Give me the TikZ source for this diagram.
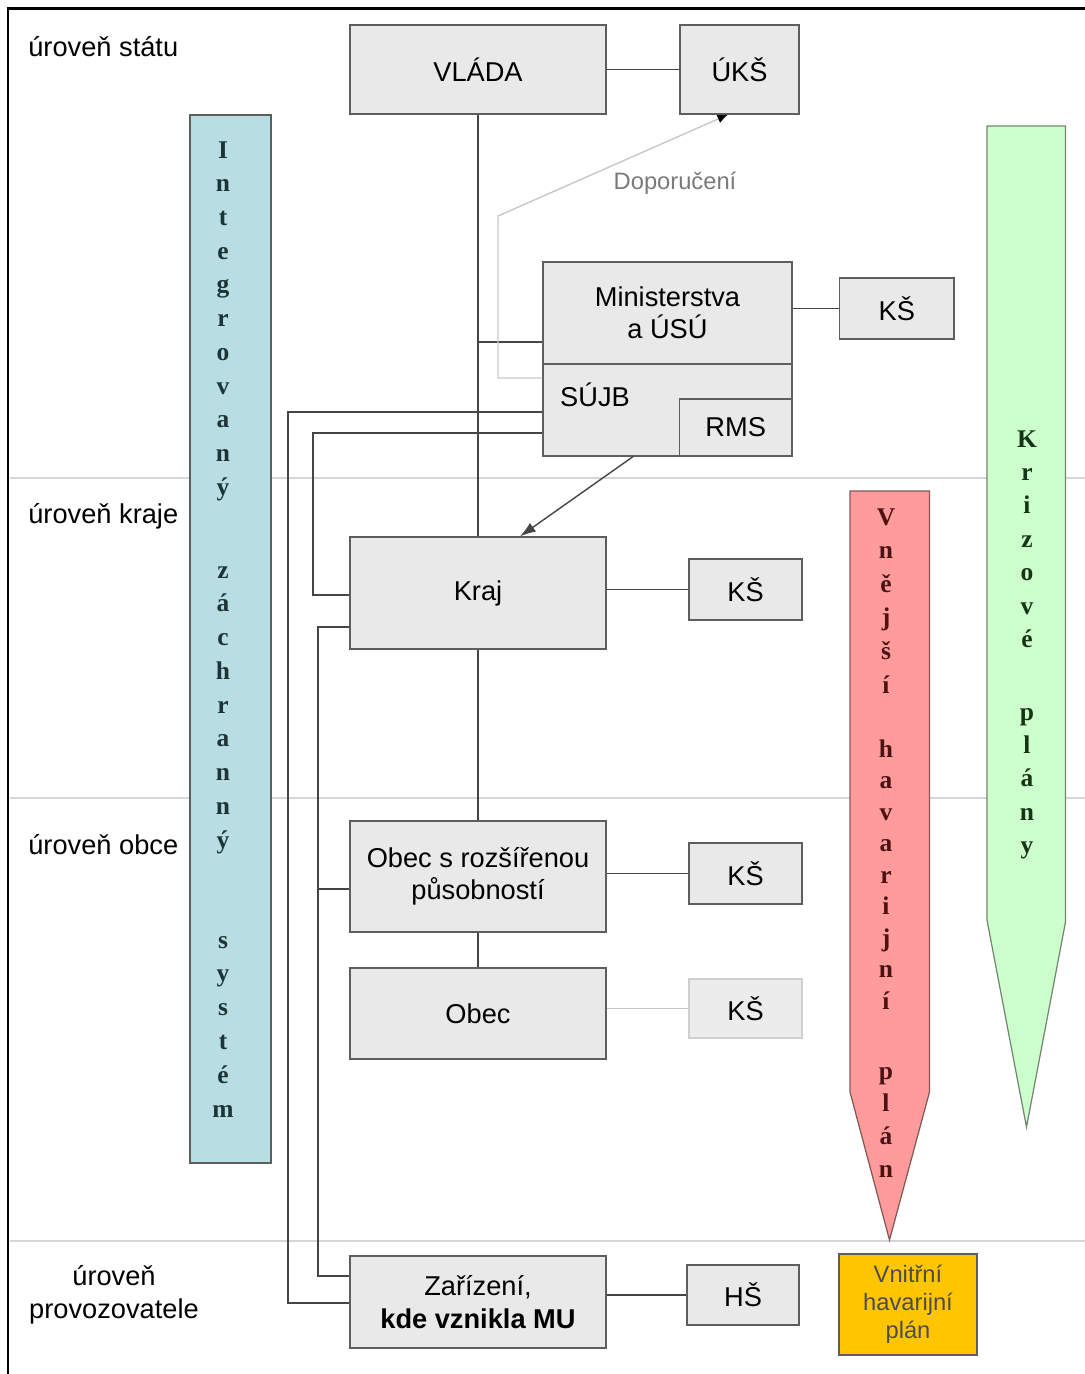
\documentclass[tikz,border=0pt]{standalone}
\usepackage{fontspec}
\setmainfont{Liberation Sans}
\newfontfamily\barfont{Liberation Serif}
\usetikzlibrary{arrows.meta}
\definecolor{BoxFill}{HTML}{E9E9E9}
\definecolor{BoxLine}{HTML}{5E5E5E}
\definecolor{Wire}{HTML}{454545}
\definecolor{Level}{HTML}{D6D6D6}
\definecolor{Aqua}{HTML}{B8DEE4}
\definecolor{Rose}{HTML}{FF9B9B}
\definecolor{Mint}{HTML}{CCFFCC}
\definecolor{Amber}{HTML}{FFC600}
\definecolor{Hint}{HTML}{7A7A7A}
\definecolor{AquaInk}{HTML}{1C3436}
\definecolor{RoseInk}{HTML}{4A1212}
\definecolor{MintInk}{HTML}{173317}

\begin{document}
\begin{tikzpicture}[x=0.02cm,y=-0.02cm,
    box/.style={draw=BoxLine,fill=BoxFill,line width=0.7pt,inner sep=0pt,
      align=center,font=\fontsize{15.5}{18.5}\selectfont},
    small/.style={box,minimum width=2.26cm,minimum height=1.22cm},
    wide/.style={box,minimum width=5.12cm},
    conn/.style={draw=Wire,line width=0.8pt},
    level/.style={font=\fontsize{15.5}{18.5}\selectfont,inner sep=0pt},
    letter/.style={font=\barfont\bfseries\fontsize{14.5}{16}\selectfont,
      inner sep=0pt,text height=1.3ex,text depth=0.2ex}]
  \useasboundingbox (0,0) rectangle (1085,1374);

  % levels
  \foreach \y in {478,798,1241}
    \draw[Level,line width=0.9pt] (10,\y) -- (1085,\y);
  \draw[black,line width=1.7pt] (8,1374) -- (8,8.5) -- (1085,8.5);
  \node[level,anchor=west] (lstat) at (28,47) {úroveň státu};
  \node[level,anchor=west] (lkraj) at (28,516) {úroveň kraje};
  \node[level,anchor=west] (lobec) at (28,845) {úroveň obce};
  \node[level,align=center] (lprov) at (114,1295) {úroveň\\provozovatele};

  % side bars
  \node[draw=BoxLine,fill=Aqua,line width=0.7pt,minimum width=1.62cm,
    minimum height=20.96cm] (izs) at (230.5,639) {};
  \filldraw[fill=Rose,draw=RoseInk!70,line width=0.7pt]
    (850,491) -- (929.5,491) -- (929.5,1092) -- (889.5,1240) -- (850,1092) -- cycle;
  \filldraw[fill=Mint,draw=MintInk!60,line width=0.7pt]
    (987,126) -- (1065.5,126) -- (1065.5,922) -- (1026.5,1127) -- (987,920) -- cycle;

  \foreach \c [count=\i from 0] in {I,n,t,e,g,r,o,v,a,n,ý}
    \node[letter,text=AquaInk] (izsa\i) at (223,{153+33.7*\i}) {\c};
  \foreach \c [count=\i from 0] in {z,á,c,h,r,a,n,n,ý}
    \node[letter,text=AquaInk] (izsb\i) at (223,{573+33.75*\i}) {\c};
  \foreach \c [count=\i from 0] in {s,y,s,t,é,m}
    \node[letter,text=AquaInk] (izsc\i) at (223,{943+33.8*\i}) {\c};

  \foreach \c [count=\i from 0] in {V,n,ě,j,š,í}
    \node[letter,text=RoseInk] (vhpa\i) at (886,{520+33.6*\i}) {\c};
  \foreach \c [count=\i from 0] in {h,a,v,a,r,i,j,n,í}
    \node[letter,text=RoseInk] (vhpb\i) at (886,{752+31.5*\i}) {\c};
  \foreach \c [count=\i from 0] in {p,l,á,n}
    \node[letter,text=RoseInk] (vhpc\i) at (886,{1074+32.7*\i}) {\c};

  \foreach \c [count=\i from 0] in {K,r,i,z,o,v,é}
    \node[letter,text=MintInk] (kpa\i) at (1027,{442+33.4*\i}) {\c};
  \foreach \c [count=\i from 0] in {p,l,á,n,y}
    \node[letter,text=MintInk] (kpb\i) at (1027,{715+33.3*\i}) {\c};

  % state level
  \node[wide,minimum height=1.78cm] (vlada) at (478,69.5) {VLÁDA};
  \node[box,minimum width=2.38cm,minimum height=1.78cm] (uks) at (739.5,69.5) {ÚKŠ};
  \node[box,minimum width=4.98cm,minimum height=2.04cm] (mini) at (667.5,313)
    {Ministerstva\\a ÚSÚ};
  \node[box,minimum width=4.98cm,minimum height=1.84cm] (sujb) at (667.5,410) {};
  \node[level] (sujbtxt) at (595,395) {SÚJB};
  \node[box,minimum width=2.25cm,minimum height=1.14cm] (rms) at (735.75,427.5) {RMS};
  \node[box,minimum width=2.29cm,minimum height=1.22cm] (ksmin) at (896.75,308.5) {KŠ};

  % region and municipality
  \node[wide,minimum height=2.24cm] (kraj) at (478,593) {Kraj};
  \node[small] (kskraj) at (745.5,589.5) {KŠ};
  \node[wide,minimum height=2.22cm] (orp) at (478,876.5)
    {Obec s rozšířenou\\působností};
  \node[small] (ksorp) at (745.5,873.5) {KŠ};
  \node[wide,minimum height=1.82cm] (obec) at (478,1013.5) {Obec};
  \node[small,draw=BoxLine!30,fill=BoxFill!85,minimum height=1.18cm] (ksobec)
    at (745.5,1008.5) {KŠ};

  % operator
  \node[wide,minimum height=1.84cm] (zariz) at (478,1302)
    {Zařízení,\\\textbf{kde vznikla MU}};
  \node[box,minimum width=2.24cm,minimum height=1.2cm] (hs) at (743,1295) {HŠ};
  \node[draw=BoxLine,fill=Amber,line width=0.7pt,minimum width=2.76cm,
    minimum height=2.02cm,inner sep=0pt,align=center,text=black!70,
    font=\fontsize{13.5}{16}\selectfont] (vhp) at (908,1304.5)
    {Vnitřní\\havarijní\\plán};

  % connectors
  \draw[conn] (vlada.east) -- (uks.west);
  \draw[conn] (vlada.south) -- (kraj.north);
  \draw[conn] (kraj.south) -- (orp.north);
  \draw[conn] (orp.south) -- (obec.north);
  \draw[conn] (ksmin.west) -- (ksmin.west -| mini.east);
  \draw[conn] (kraj.east |- kskraj.west) -- (kskraj.west);
  \draw[conn] (orp.east |- ksorp.west) -- (ksorp.west);
  \draw[draw=BoxLine!35,line width=0.8pt] (obec.east |- ksobec.west) -- (ksobec.west);
  \draw[conn] (zariz.east |- hs.west) -- (hs.west);

  \coordinate (jmini) at (478,342);
  \draw[conn] (jmini) -- (jmini -| mini.west);

  \coordinate (bendA) at (288,412);
  \coordinate (bendB) at (288,1303);
  \draw[conn] (sujb.west |- bendA) -- (bendA) -- (bendB) -- (bendB -| zariz.west);
  \coordinate (bendC) at (313,433);
  \coordinate (bendD) at (313,595);
  \draw[conn] (sujb.west |- bendC) -- (bendC) -- (bendD) -- (bendD -| kraj.west);
  \coordinate (bendE) at (318,627);
  \coordinate (bendF) at (318,1276);
  \draw[conn] (kraj.west |- bendE) -- (bendE) -- (bendF) -- (bendF -| zariz.west);
  \coordinate (jorp) at (318,889);
  \draw[conn] (jorp) -- (jorp -| orp.west);

  \draw[conn,-{Latex[length=9pt,width=6pt]}]
    ([xshift=-0.69cm]sujb.south) -- ([xshift=0.84cm]kraj.north);

  % recommendation
  \coordinate (recA) at (498,378);
  \coordinate (recB) at (498,216);
  \draw[draw=black!22,line width=0.8pt,-{Latex[color=black,length=6pt,width=5pt]}]
    (sujb.west |- recA) -- (recA) -- (recB) -- ([xshift=-0.23cm]uks.south);
  \node[text=Hint,font=\fontsize{13.5}{16}\selectfont,inner sep=0pt] (dopor)
    at (675,183) {Doporučení};
\end{tikzpicture}
\end{document}
